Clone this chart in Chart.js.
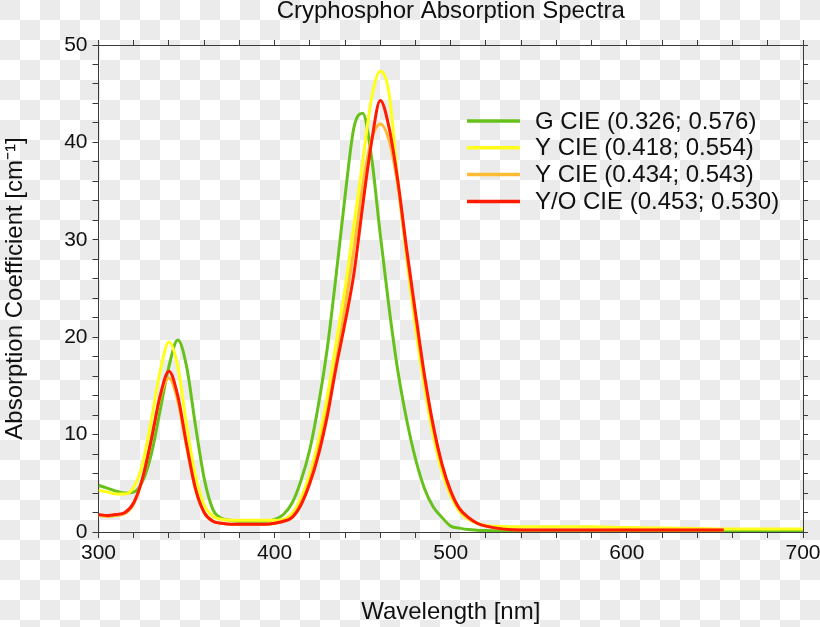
<!DOCTYPE html>
<html>
<head>
<meta charset="utf-8">
<script src="https://cdn.jsdelivr.net/npm/chart.js@4.4.0/dist/chart.umd.min.js"></script>
<style>
  body {
    margin: 0;
    background-color: #fff;
    background-image: conic-gradient(#fff 0 25%, #ebebeb 0 50%, #fff 0 75%, #ebebeb 0);
    background-size: 40px 40px;
  }
  canvas { display: block; }
</style>
</head>
<body>
<canvas id="spectra" width="820" height="627"></canvas>
<script>
// wavelength grid [nm]
const wavelengths = [300,305,310,315,320,325,330,335,340,345,350,355,360,365,370,375,380,385,390,395,
  400,405,410,415,420,425,430,435,440,445,450,455,460,465,470,475,480,485,490,495,
  500,505,510,515,520,540,560,580,600,620,640,655,670,685,700];

// absorption coefficient [cm-1]
const green = [4.8,4.5,4.2,4.0,4.1,5.2,8.0,12.5,17.0,19.7,17.0,11.0,5.5,2.3,1.4,1.2,1.1,1.1,1.1,1.1,
  1.3,1.8,3.0,5.3,8.5,13.2,19.0,26.5,34.5,41.5,43.0,38.5,30.5,23.0,16.5,11.5,7.5,4.5,2.6,1.5,
  0.6,0.4,0.25,0.18,0.15,0.12,0.12,0.12,0.12,0.12,0.12,0.12,0.12,0.12,0.12];
const yellow = [4.3,4.1,3.9,3.9,4.6,7.0,11.5,16.5,19.5,17.0,11.0,5.8,2.8,1.6,1.3,1.2,1.2,1.2,1.2,1.2,
  1.2,1.3,1.9,3.5,6.0,9.5,14.0,19.5,25.0,31.5,38.0,44.5,47.3,45.0,36.0,28.0,21.0,15.0,10.0,6.2,
  3.7,2.1,1.3,0.9,0.65,0.55,0.55,0.55,0.45,0.4,0.35,0.3,0.3,0.3,0.3];
const orange = [1.7,1.6,1.7,1.9,2.9,5.5,9.5,13.8,15.8,13.5,8.8,4.4,2.0,1.1,0.9,0.8,0.8,0.8,0.8,0.8,
  0.9,1.1,1.6,3.0,5.3,8.5,12.5,17.5,23.0,29.0,35.5,40.3,41.9,40.2,35.5,28.5,22.0,15.8,10.7,6.8,
  4.0,2.3,1.4,0.9,0.6,0.2,0.2,0.2,0.2,0.2,0.2,0.2,null,null,null];
const red = [1.8,1.7,1.8,2.0,3.0,5.5,9.5,14.0,16.5,14.0,9.0,4.5,2.0,1.1,0.9,0.8,0.8,0.8,0.8,0.8,
  0.9,1.1,1.5,2.8,5.0,8.0,12.0,17.0,21.5,26.5,33.5,40.0,44.3,41.5,36.0,29.0,22.5,16.2,11.0,7.0,
  4.2,2.4,1.5,0.9,0.6,0.2,0.2,0.2,0.2,0.2,0.2,0.2,null,null,null];

const labels = ["G CIE (0.326; 0.576)", "Y CIE (0.418; 0.554)", "Y CIE (0.434; 0.543)", "Y/O CIE (0.453; 0.530)"];
const colors = ["#66c21a", "#ffff1a", "#ffbb33", "#ff1a00"];
const titleText = 'Cryphosphor Absorption Spectra';

function pts(vals) {
  const out = [];
  vals.forEach((v, i) => { if (v !== null) out.push({x: wavelengths[i], y: v}); });
  return out;
}

const FONT = "'Liberation Sans', Arial, sans-serif";
const AXIS = "#3a3a3a";

// title centred over the plot, legend inside the plot at top right
const decorations = {
  id: 'decorations',
  afterDraw(chart) {
    const ctx = chart.ctx;
    const area = chart.chartArea;
    ctx.save();
    ctx.fillStyle = '#111';
    ctx.font = "24px " + FONT;
    ctx.textAlign = 'center';
    ctx.textBaseline = 'middle';
    ctx.fillText(titleText, (area.left + area.right) / 2, 11);

    ctx.textAlign = 'left';
    chart.data.datasets.forEach((ds, i) => {
      const y = 121 + i * 26.8;
      ctx.strokeStyle = ds.borderColor;
      ctx.lineWidth = 3.5;
      ctx.beginPath();
      ctx.moveTo(467, y);
      ctx.lineTo(520, y);
      ctx.stroke();
      ctx.fillText(ds.label, 535, y + 1);
    });
    ctx.restore();
  }
};

const datasets = [green, yellow, orange, red].map((vals, i) => ({
  label: labels[i],
  data: pts(vals),
  borderColor: colors[i],
  backgroundColor: colors[i],
  borderWidth: 3,
  pointRadius: 0,
  cubicInterpolationMode: 'monotone',
  order: 4 - i
}));

const noPad = s => { s.paddingLeft = 0; s.paddingRight = 0; s.paddingTop = 0; s.paddingBottom = 0; };

new Chart(document.getElementById('spectra'), {
  type: 'line',
  data: { datasets: datasets },
  options: {
    responsive: false,
    animation: false,
    layout: { padding: { left: 0, right: 12, top: 40, bottom: 0 } },
    plugins: {
      legend: { display: false },
      tooltip: { enabled: false },
      title: { display: false }
    },
    scales: {
      x: {
        type: 'linear',
        position: 'bottom',
        min: 300, max: 700,
        afterFit: s => { s.height = 95; noPad(s); },
        ticks: {
          stepSize: 20, autoSkip: false, maxRotation: 0, padding: 3,
          color: '#111', font: { family: FONT, size: 21 },
          callback: v => (v % 100 === 0 ? v : '')
        },
        grid: { drawOnChartArea: false, tickLength: 6, tickColor: AXIS },
        border: { color: AXIS, width: 1 },
        title: { display: true, text: 'Wavelength [nm]', color: '#111', font: { family: FONT, size: 24 }, padding: { top: 0, bottom: 0 } }
      },
      xTop: {
        type: 'linear',
        position: 'top',
        min: 300, max: 700,
        afterFit: s => { s.height = 5; noPad(s); },
        ticks: { display: false, stepSize: 20 },
        grid: { drawOnChartArea: false, tickLength: 5, tickColor: AXIS },
        border: { color: AXIS, width: 1 }
      },
      y: {
        position: 'left',
        min: 0, max: 50,
        afterFit: s => { s.width = 98.5; noPad(s); },
        ticks: {
          stepSize: 2, autoSkip: false, padding: 5,
          color: '#111', font: { family: FONT, size: 21 },
          callback: v => (v % 10 === 0 ? v : '')
        },
        grid: { drawOnChartArea: false, tickLength: 6, tickColor: AXIS },
        border: { color: AXIS, width: 1 },
        title: { display: true, text: 'Absorption Coefficient [cm⁻¹]', color: '#111', font: { family: FONT, size: 24 }, padding: { top: 1, bottom: 0 } }
      },
      yRight: {
        position: 'right',
        min: 0, max: 50,
        afterFit: s => { s.width = 5; noPad(s); },
        ticks: { display: false, stepSize: 2 },
        grid: { drawOnChartArea: false, tickLength: 5, tickColor: AXIS },
        border: { color: AXIS, width: 1 }
      }
    }
  },
  plugins: [decorations]
});
</script>
</body>
</html>
